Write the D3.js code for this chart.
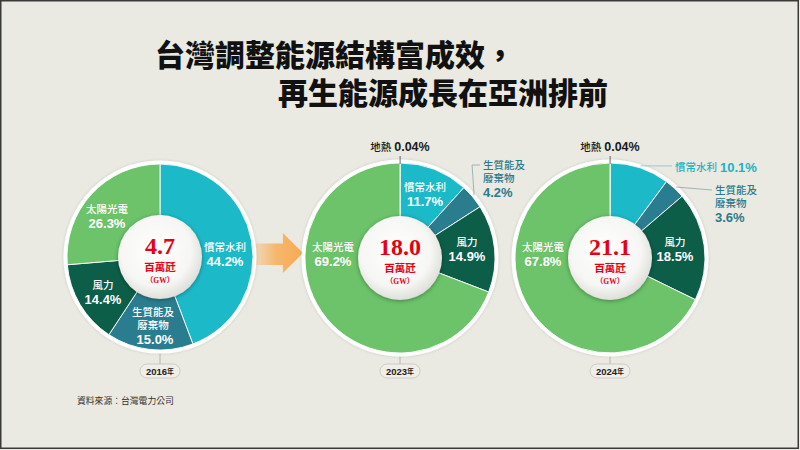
<!DOCTYPE html>
<html><head><meta charset="utf-8">
<script src="https://cdn.jsdelivr.net/npm/d3@7"></script>
<style>
html,body{margin:0;padding:0;background:#EAE9E2;}
svg{display:block;}
</style></head>
<body>
<svg id="chart" width="800" height="450"></svg>
<script>
// ---------- DATA ----------
const titleLines = ["台灣調整能源結構富成效，", "再生能源成長在亞洲排前"];
const years = ["2016年", "2023年", "2024年"];
const totals = ["4.7", "18.0", "21.1"];
const unitText = "百萬瓩";
const unitSub = "（GW）";
const categories = ["地熱", "慣常水利", "生質能及廢棄物", "風力", "太陽光電"];
const share2016 = [0, 44.2, 15.0, 14.4, 26.3];
const share2023 = [0.04, 11.7, 4.2, 14.9, 69.2];
const share2024 = [0.04, 10.1, 3.6, 18.5, 67.8];
const sourceText = "資料來源：台灣電力公司";

// ---------- STYLE / LAYOUT ----------
const colors = {
  "地熱": "#6CC36A",
  "慣常水利": "#1CB9C8",
  "生質能及廢棄物": "#2A7D8E",
  "風力": "#0C5E49",
  "太陽光電": "#6CC36A"
};
const extColors = {"地熱": "#1a1a1a", "慣常水利": "#1CB3C3", "生質能及廢棄物": "#2A7B8C"};
const nameLines = {"生質能及廢棄物": ["生質能及", "廢棄物"]};
const fmtPct = v => (v < 1 ? v.toFixed(2) : v.toFixed(1)) + "%";

const pies = [
  {values: share2016, cx: 160, cy: 257, r: 93, labels: {
    "慣常水利": {type: "in", x: 65, y: -10},
    "生質能及廢棄物": {type: "in", x: -7, y: 55},
    "風力": {type: "in", x: -57, y: 28},
    "太陽光電": {type: "in", x: -53, y: -48}
  }},
  {values: share2023, cx: 400, cy: 258, r: 95, labels: {
    "地熱": {type: "top"},
    "慣常水利": {type: "in", x: 25, y: -71},
    "生質能及廢棄物": {type: "ext", x: 83, y: -93, line: "elbow"},
    "風力": {type: "in", x: 67, y: -16},
    "太陽光電": {type: "in", x: -67, y: -11}
  }},
  {values: share2024, cx: 610, cy: 258, r: 95, labels: {
    "地熱": {type: "top"},
    "慣常水利": {type: "ext1", x: 65, y: -89, lineTo: 62},
    "生質能及廢棄物": {type: "ext", x: 105, y: -68, line: "straight", lineTo: 102},
    "風力": {type: "in", x: 65, y: -16},
    "太陽光電": {type: "in", x: -67, y: -11}
  }}
];
const FONT = '"Liberation Sans", "Noto Sans CJK TC", sans-serif';
const CJK = '"Noto Sans CJK TC", "Liberation Sans", sans-serif';
const SERIF = '"Liberation Serif", "DejaVu Serif", "Noto Sans CJK TC", serif';

const svg = d3.select("#chart");
const defs = svg.append("defs");

// background + frame
svg.append("rect").attr("x", 0).attr("y", 0).attr("width", 800).attr("height", 450).attr("fill", "#EAE9E2");
svg.append("rect").attr("x", 0.75).attr("y", 0.75).attr("width", 797.5).attr("height", 447.5)
  .attr("fill", "none").attr("stroke", "#3a3a3a").attr("stroke-width", 1.5);

// gradients / filters
const rg = defs.append("radialGradient").attr("id", "cg").attr("cx", "45%").attr("cy", "42%").attr("r", "60%");
rg.append("stop").attr("offset", "0%").attr("stop-color", "#ffffff");
rg.append("stop").attr("offset", "70%").attr("stop-color", "#f6f6f4");
rg.append("stop").attr("offset", "100%").attr("stop-color", "#dcdcd8");
const sh = defs.append("filter").attr("id", "sh").attr("x", "-30%").attr("y", "-30%").attr("width", "160%").attr("height", "160%");
sh.append("feDropShadow").attr("dx", 0).attr("dy", 1).attr("stdDeviation", 2).attr("flood-color", "#000").attr("flood-opacity", 0.35);
const sh2 = defs.append("filter").attr("id", "sh2").attr("x", "-20%").attr("y", "-20%").attr("width", "140%").attr("height", "140%");
sh2.append("feDropShadow").attr("dx", 0).attr("dy", 0).attr("stdDeviation", 1.5).attr("flood-color", "#000").attr("flood-opacity", 0.15);
const ag = defs.append("linearGradient").attr("id", "ag").attr("x1", "0").attr("x2", "1").attr("y1", "0").attr("y2", "0");
ag.append("stop").attr("offset", "0%").attr("stop-color", "#F8AE58").attr("stop-opacity", 0);
ag.append("stop").attr("offset", "55%").attr("stop-color", "#F8AE58").attr("stop-opacity", 0.85);
ag.append("stop").attr("offset", "100%").attr("stop-color", "#F8AA50").attr("stop-opacity", 1);

// title
const title = svg.append("g").attr("font-family", CJK).attr("font-weight", 900).attr("font-size", 30).attr("fill", "#111");
title.append("text").attr("x", 155).attr("y", 66).text(titleLines[0]);
title.append("text").attr("x", 278).attr("y", 104).text(titleLines[1]);

// arrow between first two pies
const ax = d3.scaleLinear().domain([0, 1]).range([244, 303]);
const ay = d3.scaleLinear().domain([-1, 1]).range([233, 273]);
const arrowPts = [[0, -0.48], [0.66, -0.48], [0.66, -1], [1, 0], [0.66, 1], [0.66, 0.6], [0, 0.6]];
svg.append("path")
  .attr("d", d3.line().x(d => ax(d[0])).y(d => ay(d[1]))(arrowPts) + "Z")
  .attr("fill", "url(#ag)");

const pieGen = d3.pie().sort(null).value(d => d.v).startAngle(0).endAngle(2 * Math.PI);

pies.forEach((p, i) => {
  const data = categories.map((c, k) => ({cat: c, v: p.values[k]}));
  const arcs = pieGen(data);
  const inner = 38;
  const arc = d3.arc().innerRadius(inner).outerRadius(p.r);
  const g = svg.append("g").attr("transform", `translate(${p.cx},${p.cy})`);

  // year pill + stem
  const yy = 371 - p.cy;
  g.append("line").attr("x1", 0).attr("x2", 0).attr("y1", p.r + 3).attr("y2", yy - 7)
    .attr("stroke", "#a8a8a2").attr("stroke-width", 0.8);
  g.append("rect").attr("x", -20).attr("y", yy - 7).attr("width", 40).attr("height", 14).attr("rx", 7)
    .attr("fill", "#EFEEE9").attr("stroke", "#c4c4bc").attr("stroke-width", 0.8);
  const yt = g.append("text").attr("x", 0).attr("y", yy).attr("text-anchor", "middle")
    .attr("dominant-baseline", "central").attr("fill", "#222").attr("font-family", FONT).attr("font-weight", 700);
  yt.append("tspan").attr("font-size", 9.5).text(years[i].replace("年", ""));
  yt.append("tspan").attr("font-size", 7).text("年");

  // white ring
  g.append("circle").attr("r", p.r + 3.5).attr("fill", "#fff").attr("filter", "url(#sh2)");

  // slices
  g.selectAll("path.slice").data(arcs.filter(a => a.value > 0)).join("path")
    .attr("class", "slice")
    .attr("d", arc)
    .attr("fill", d => colors[d.data.cat])
    .attr("stroke", "#fff").attr("stroke-width", 0.9);

  // center
  g.append("circle").attr("r", 42).attr("fill", "url(#cg)").attr("filter", "url(#sh)");
  const ct = g.append("g").attr("text-anchor", "middle").attr("fill", "#E60012").attr("font-weight", 700);
  ct.append("text").attr("x", 0).attr("y", -3).attr("font-family", SERIF).attr("font-size", 24).text(totals[i]);
  ct.append("text").attr("x", 0).attr("y", 14).attr("font-family", CJK).attr("font-size", 10.5).text(unitText);
  ct.append("text").attr("x", 0).attr("y", 26).attr("font-family", SERIF).attr("font-size", 7.5).text(unitSub);

  // labels
  arcs.forEach((a, k) => {
    const lab = p.labels[a.data.cat];
    if (!lab || a.value <= 0) return;
    const pct = fmtPct(a.value);
    const names = nameLines[a.data.cat] || [a.data.cat];
    const outerPt = d3.arc().innerRadius(p.r + 2).outerRadius(p.r + 2).centroid(a);
    if (lab.type === "in") {
      const t = g.append("g").attr("fill", "#fff").attr("text-anchor", "middle");
      names.forEach((n, j) => {
        t.append("text").attr("x", lab.x).attr("y", lab.y + j * 12.5).attr("dominant-baseline", "central")
          .attr("font-family", FONT).attr("font-weight", 500).attr("font-size", 10.5).text(n);
      });
      t.append("text").attr("x", lab.x + (names.length > 1 ? 2 : 0)).attr("y", lab.y + (names.length - 1) * 12.5 + 14.5)
        .attr("dominant-baseline", "central").attr("font-family", FONT).attr("font-weight", 700)
        .attr("font-size", 13).text(pct);
    } else if (lab.type === "top") {
      const top = -(p.r + 13);
      g.append("line").attr("x1", outerPt[0]).attr("y1", outerPt[1] + 3).attr("x2", outerPt[0]).attr("y2", top + 6)
        .attr("stroke", "#444").attr("stroke-width", 0.8);
      const t = g.append("text").attr("x", 0).attr("y", top - 3).attr("text-anchor", "middle")
        .attr("dominant-baseline", "central").attr("fill", extColors[a.data.cat]).attr("font-family", FONT);
      t.append("tspan").attr("font-weight", 500).attr("font-size", 10.5).text(a.data.cat + " ");
      t.append("tspan").attr("font-weight", 700).attr("font-size", 12.5).text(pct);
    } else if (lab.type === "ext") {
      let pts;
      if (lab.line === "elbow") pts = [outerPt, [outerPt[0] - 2, lab.y], [outerPt[0] + 6, lab.y]];
      else pts = [outerPt, [lab.lineTo, lab.y]];
      g.append("path").attr("d", d3.line()(pts)).attr("fill", "none").attr("stroke", "#8aa7ad").attr("stroke-width", 0.8);
      const t = g.append("g").attr("fill", extColors[a.data.cat]);
      names.forEach((n, j) => {
        t.append("text").attr("x", lab.x).attr("y", lab.y + j * 12.5).attr("dominant-baseline", "central")
          .attr("font-family", FONT).attr("font-weight", 500).attr("font-size", 10.5).text(n);
      });
      t.append("text").attr("x", lab.x).attr("y", lab.y + (names.length - 1) * 12.5 + 15)
        .attr("dominant-baseline", "central").attr("font-family", FONT).attr("font-weight", 700)
        .attr("font-size", 13).text(pct);
    } else if (lab.type === "ext1") {
      g.append("path").attr("d", d3.line()([outerPt, [lab.lineTo, outerPt[1]]])).attr("fill", "none")
        .attr("stroke", "#8fbfc6").attr("stroke-width", 0.8);
      const t = g.append("text").attr("x", lab.x).attr("y", outerPt[1] + 1).attr("dominant-baseline", "central")
        .attr("fill", extColors[a.data.cat]).attr("font-family", FONT);
      t.append("tspan").attr("font-weight", 500).attr("font-size", 10.5).text(a.data.cat + " ");
      t.append("tspan").attr("font-weight", 700).attr("font-size", 13).text(pct);
    }
  });
});

// source
svg.append("text").attr("x", 77).attr("y", 400).attr("dominant-baseline", "central")
  .attr("font-family", CJK).attr("font-size", 8.8).attr("fill", "#333").text(sourceText);
</script>
</body></html>
